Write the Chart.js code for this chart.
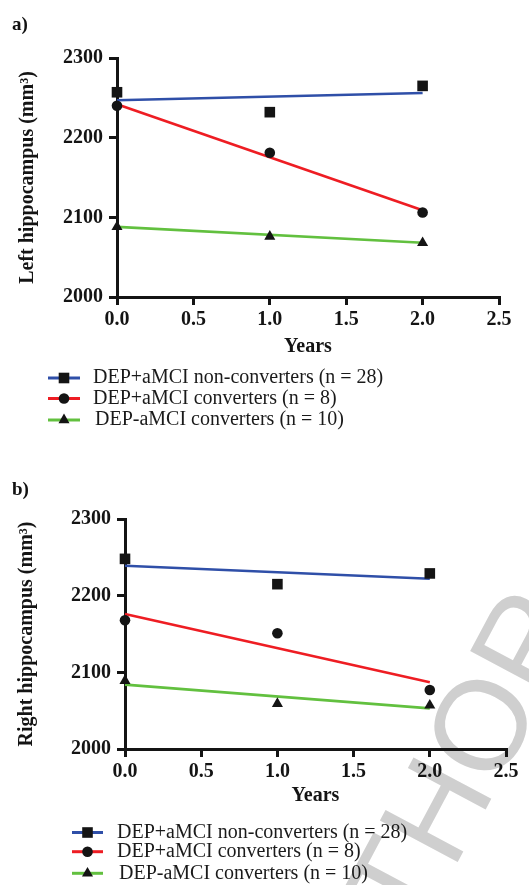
<!DOCTYPE html>
<html>
<head>
<meta charset="utf-8">
<script src="https://cdn.jsdelivr.net/npm/chart.js@4/dist/chart.umd.min.js"></script>
<style>
  html, body { margin: 0; padding: 0; background: #fff; }
  body { width: 529px; height: 885px; position: relative; overflow: hidden; }
  #wm { position: absolute; font: 128px "Liberation Sans", Arial, sans-serif; line-height: 128px;
        color: #cfcfcf; white-space: nowrap; z-index: 0; }
  .panel { position: absolute; left: 0; width: 529px; z-index: 1; }
  #pa { top: 0; height: 440px; }
  #pb { top: 460px; height: 425px; }
  .lab { position: absolute; left: 12px; font: bold 19px "Liberation Serif", serif; color: #111; z-index: 2; }
</style>
</head>
<body>
<span id="wm">AUTHOR</span>
<div class="lab" style="top:13px">a)</div>
<div class="lab" style="top:478px">b)</div>
<div class="panel" id="pa"><canvas id="ca"></canvas></div>
<div class="panel" id="pb"><canvas id="cb"></canvas></div>
<script>
// ---- data ----
const years = [0, 1, 2];
const seriesLabels = ['DEP+aMCI non-converters (n = 28)', 'DEP+aMCI converters (n = 8)', 'DEP-aMCI converters (n = 10)'];
const xTicks = [0, 0.5, 1, 1.5, 2, 2.5];
const yTicks = [2000, 2100, 2200, 2300];

// Panel a: Left hippocampus
const leftNonConv = [2257, 2232, 2265];
const leftConvPlus = [2240, 2181, 2106];
const leftConvMinus = [2088, 2076, 2068];
const fitYears = [0, 2];
const leftFitNonConv = [2247, 2256];
const leftFitConvPlus = [2242, 2109];
const leftFitConvMinus = [2088, 2068];

// Panel b: Right hippocampus
const rightNonConv = [2248, 2215, 2229];
const rightConvPlus = [2168, 2151, 2077];
const rightConvMinus = [2089, 2059, 2057];
const rightFitNonConv = [2239, 2222];
const rightFitConvPlus = [2176, 2087];
const rightFitConvMinus = [2084, 2053];

// ---- styles ----
const lineColors = ['#2f4fa8', '#ee1d23', '#62c03f'];
const markers = ['rect', 'circle', 'triangle'];
const markerRadius = [7.5, 5.3, 6.4];
const ink = '#141414';

function pts(xs, ys) { return xs.map((x, i) => ({ x: x, y: ys[i] })); }

function buildDatasets(pointsArr, fitsArr) {
  const ds = [];
  pointsArr.forEach((p, i) => {
    ds.push({
      type: 'scatter', label: seriesLabels[i], data: pts(years, p),
      pointStyle: markers[i], pointRadius: markerRadius[i], pointHoverRadius: markerRadius[i],
      backgroundColor: ink, borderColor: ink, borderWidth: 0, clip: false, order: 0
    });
  });
  fitsArr.forEach((f, i) => {
    ds.push({
      type: 'line', label: seriesLabels[i] + ' fit', data: pts(fitYears, f),
      borderColor: lineColors[i], borderWidth: 2.6, pointRadius: 0, fill: false,
      clip: false, order: 1, tension: 0
    });
  });
  return ds;
}

function drawMarker(ctx, style, x, y, r) {
  ctx.beginPath();
  if (style === 'rect') {
    const s = Math.SQRT1_2 * r;
    ctx.rect(x - s, y - s, 2 * s, 2 * s);
  } else if (style === 'circle') {
    ctx.arc(x, y, r, 0, Math.PI * 2);
  } else {
    const w = r * Math.sqrt(3) / 2;
    ctx.moveTo(x, y - r);
    ctx.lineTo(x + w, y + r / 2);
    ctx.lineTo(x - w, y + r / 2);
    ctx.closePath();
  }
  ctx.fillStyle = ink;
  ctx.fill();
}

const legendPlugin = {
  id: 'customLegend',
  afterDraw(chart, args, opts) {
    const ctx = chart.ctx;
    ctx.save();
    ctx.font = '20px "Liberation Serif", "Times New Roman", serif';
    ctx.textBaseline = 'middle';
    seriesLabels.forEach((lab, i) => {
      const y = opts.rows[i];
      ctx.strokeStyle = lineColors[i];
      ctx.lineWidth = 3;
      ctx.beginPath();
      ctx.moveTo(opts.x0, y);
      ctx.lineTo(opts.x1, y);
      ctx.stroke();
      drawMarker(ctx, markers[i], (opts.x0 + opts.x1) / 2, y, markerRadius[i]);
      ctx.fillStyle = '#1a1a1a';
      ctx.fillText(lab, opts.tx + (i === 2 ? 2 : 0), y);
    });
    ctx.restore();
  }
};

function makeChart(id, datasets, cfg) {
  return new Chart(document.getElementById(id), {
    data: { datasets: datasets },
    plugins: [legendPlugin],
    options: {
      responsive: true, maintainAspectRatio: false, animation: false,
      events: [],
      layout: { padding: { left: 0, right: cfg.right, top: cfg.top, bottom: cfg.bottom } },
      plugins: {
        legend: { display: false }, tooltip: { enabled: false }, title: { display: false },
        customLegend: cfg.legend
      },
      scales: {
        x: {
          type: 'linear', min: 0, max: 2.5,
          afterBuildTicks: s => { s.ticks = xTicks.map(v => ({ value: v })); },
          afterFit: s => { s.height = cfg.xh; },
          border: { display: true, color: ink, width: 3 },
          grid: { drawOnChartArea: false, drawTicks: true, tickLength: 8, color: ink, lineWidth: 3 },
          ticks: {
            callback: v => Number(v).toFixed(1), padding: 3, color: ink, maxRotation: 0,
            font: { family: '"Liberation Serif", serif', size: 20, weight: 'bold' }
          },
          title: {
            display: true, text: 'Years', color: ink, padding: { top: 0, bottom: 0 },
            font: { family: '"Liberation Serif", serif', size: 20, weight: 'bold' }
          }
        },
        y: {
          type: 'linear', min: 2000, max: 2300,
          afterBuildTicks: s => { s.ticks = yTicks.map(v => ({ value: v })); },
          afterFit: s => { s.width = cfg.yw; },
          border: { display: true, color: ink, width: 3 },
          grid: { drawOnChartArea: false, drawTicks: true, tickLength: 8, color: ink, lineWidth: 3 },
          ticks: {
            callback: v => String(v), padding: 6, color: ink,
            font: { family: '"Liberation Serif", serif', size: 20, weight: 'bold' }
          },
          title: {
            display: true, text: cfg.ytitle, color: ink, padding: { top: cfg.ytp, bottom: 0 },
            font: { family: '"Liberation Serif", serif', size: 20, weight: 'bold' }
          }
        }
      }
    }
  });
}

makeChart('ca',
  buildDatasets([leftNonConv, leftConvPlus, leftConvMinus], [leftFitNonConv, leftFitConvPlus, leftFitConvMinus]),
  { right: 30, top: 58, bottom: 440 - 297 - 62, xh: 62, yw: 117, ytp: 16,
    ytitle: 'Left hippocampus (mm³)',
    legend: { x0: 48, x1: 80, tx: 93, rows: [378, 398.5, 420] } });

makeChart('cb',
  buildDatasets([rightNonConv, rightConvPlus, rightConvMinus], [rightFitNonConv, rightFitConvPlus, rightFitConvMinus]),
  { right: 23, top: 59, bottom: 425 - 289 - 59, xh: 59, yw: 125, ytp: 15,
    ytitle: 'Right hippocampus (mm³)',
    legend: { x0: 72, x1: 103, tx: 117, rows: [372.5, 391.7, 413.3] } });

// watermark placement: centre of the "O" at (479, 724), rotated
(function () {
  const wm = document.getElementById('wm');
  const size = 128;
  const c = document.createElement('canvas').getContext('2d');
  c.font = size + 'px "Liberation Sans", Arial, sans-serif';
  const pre = c.measureText('AUTH').width, ow = c.measureText('O').width;
  const baseline = size * (0.5 + (0.905 - 0.212) / 2);
  const ox = pre + ow / 2, oy = baseline - size * 0.36;
  wm.style.left = (479 - ox) + 'px';
  wm.style.top = (724 - oy) + 'px';
  wm.style.transformOrigin = ox + 'px ' + oy + 'px';
  wm.style.transform = 'rotate(-62deg)';
})();
</script>
</body>
</html>
